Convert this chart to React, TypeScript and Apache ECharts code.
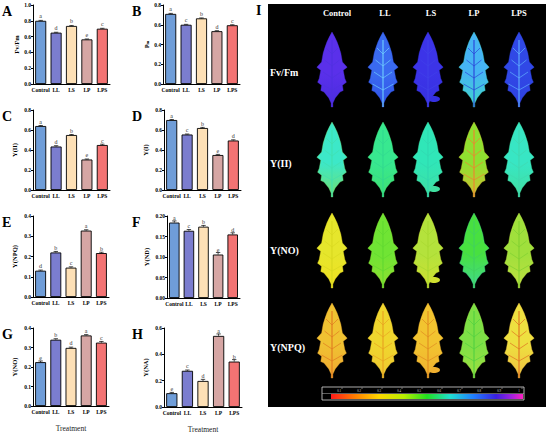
import React, { useEffect, useRef } from "react";
import * as echarts from "echarts";

// ---------- data ----------
const categories = ["Control", "LL", "LS", "LP", "LPS"];
const barColors = ["#6f9dd8", "#7b7dcf", "#fde0b6", "#d6a6a4", "#f37373"];

const fvfmValues = [0.8, 0.65, 0.735, 0.565, 0.7];
const fvfmErr = [0.005, 0.005, 0.005, 0.005, 0.005];
const fvfmSig = ["a", "d", "b", "e", "c"];

const pmValues = [0.71, 0.6, 0.665, 0.535, 0.595];
const pmErr = [0.005, 0.004, 0.004, 0.005, 0.005];
const pmSig = ["a", "c", "b", "d", "c"];

const yiiValues = [0.64, 0.435, 0.55, 0.305, 0.45];
const yiiErr = [0.005, 0.008, 0.005, 0.005, 0.008];
const yiiSig = ["a", "d", "b", "e", "c"];

const yiValues = [0.7, 0.555, 0.62, 0.35, 0.495];
const yiErr = [0.005, 0.005, 0.006, 0.006, 0.007];
const yiSig = ["a", "c", "b", "e", "d"];

const ynpqValues = [0.13, 0.22, 0.145, 0.328, 0.217];
const ynpqErr = [0.003, 0.005, 0.004, 0.004, 0.004];
const ynpqSig = ["d", "b", "c", "a", "b"];

const yndValues = [0.184, 0.164, 0.174, 0.106, 0.155];
const yndErr = [0.004, 0.003, 0.003, 0.005, 0.004];
const yndSig = ["a", "c", "b", "e", "d"];

const ynoValues = [0.225, 0.34, 0.298, 0.362, 0.325];
const ynoErr = [0.006, 0.005, 0.004, 0.004, 0.006];
const ynoSig = ["e", "b", "d", "a", "c"];

const ynaValues = [0.105, 0.275, 0.198, 0.54, 0.345];
const ynaErr = [0.006, 0.006, 0.012, 0.015, 0.015];
const ynaSig = ["e", "c", "d", "a", "b"];

// panel I (images) labels
const imageCols = ["Control", "LL", "LS", "LP", "LPS"];
const imageRows = ["Fv/Fm", "Y(II)", "Y(NO)", "Y(NPQ)"];
const leafFill = [
  ["#5a30ea", "#3a6af0", "#3c34e8", "#46b4f4", "#3048e6"],
  ["#3de8c8", "#38e890", "#30e6b8", "#90e030", "#38e6c4"],
  ["#e6e62c", "#70e434", "#b4e23c", "#48e040", "#a0e03c"],
  ["#f0c232", "#f0d62e", "#f2c430", "#7ee046", "#eee040"],
];
const leafFill2 = [
  ["#4a2ce0", "#2f50e8", "#3530e0", "#40d8c8", "#2e40e0"],
  ["#70e070", "#40e070", "#40e0a0", "#d0c030", "#40e0a0"],
  ["#f0e020", "#90e030", "#d0e030", "#40d890", "#c0e040"],
  ["#f0a830", "#f0c830", "#f0b030", "#a0e040", "#f0c040"],
];
const leafVein = [
  ["#5030e0", "#70d0ff", "#4040ea", "#2a40d8", "#60b0ff"],
  ["#40e0b0", "#30d890", "#30d8b0", "#f08030", "#40d8b0"],
  ["#d8d820", "#60d830", "#a8d830", "#40d060", "#80d030"],
  ["#e07820", "#e8a020", "#e08a20", "#50d040", "#e07020"],
];
const colorbarTicks = ["0.1", "0.2", "0.3", "0.4", "0.5", "0.6", "0.7", "0.8", "0.9", "1"];

const FONT = "Liberation Serif";
const LEAF_D =
  "M20 0 Q27 12 31 28 L33 40 L39 47 L34 51 L36 62 L38 67 L33 71 L34 78 L30 80 L24 88 L21 95 L21 100 L19 100 L19 95 L16 88 L10 80 L6 78 L7 71 L2 67 L4 62 L6 51 L1 47 L7 40 L9 28 Q13 12 20 0 Z";

let leafRegistered = false;
function registerLeaf() {
  if (leafRegistered) return;
  echarts.graphic.registerShape("leaf", echarts.graphic.extendPath(LEAF_D, {}) as any);
  leafRegistered = true;
}

type Panel = {
  letter: string;
  name: string;
  values: number[];
  err: number[];
  sig: string[];
  max: number;
  interval: number;
  dec: number;
  grid: { left: number; top: number; width: number; height: number };
  nameGap: number;
  xName?: string;
};

const panels: Panel[] = [
  { letter: "A", name: "Fv/Fm", values: fvfmValues, err: fvfmErr, sig: fvfmSig, max: 1.0, interval: 0.2, dec: 1, grid: { left: 33, top: 5, width: 77, height: 79 }, nameGap: 12 },
  { letter: "B", name: "{p|P}{s|m}", values: pmValues, err: pmErr, sig: pmSig, max: 0.8, interval: 0.2, dec: 1, grid: { left: 163, top: 5, width: 77, height: 79 }, nameGap: 13 },
  { letter: "C", name: "Y(II)", values: yiiValues, err: yiiErr, sig: yiiSig, max: 0.8, interval: 0.2, dec: 1, grid: { left: 33, top: 110, width: 77, height: 80 }, nameGap: 15 },
  { letter: "D", name: "Y(I)", values: yiValues, err: yiErr, sig: yiSig, max: 0.8, interval: 0.2, dec: 1, grid: { left: 164, top: 110, width: 77, height: 80 }, nameGap: 15 },
  { letter: "E", name: "Y(NPQ)", values: ynpqValues, err: ynpqErr, sig: ynpqSig, max: 0.4, interval: 0.1, dec: 1, grid: { left: 33, top: 216, width: 76, height: 81 }, nameGap: 15 },
  { letter: "F", name: "Y(ND)", values: yndValues, err: yndErr, sig: yndSig, max: 0.2, interval: 0.05, dec: 2, grid: { left: 167, top: 216, width: 73, height: 82 }, nameGap: 17 },
  { letter: "G", name: "Y(NO)", values: ynoValues, err: ynoErr, sig: ynoSig, max: 0.4, interval: 0.1, dec: 1, grid: { left: 33, top: 328, width: 76, height: 78 }, nameGap: 15, xName: "Treatment" },
  { letter: "H", name: "Y(NA)", values: ynaValues, err: ynaErr, sig: ynaSig, max: 0.6, interval: 0.2, dec: 1, grid: { left: 164, top: 328, width: 78, height: 79 }, nameGap: 15, xName: "Treatment" },
];

function buildOption() {
  const grids: any[] = [];
  const xAxes: any[] = [];
  const yAxes: any[] = [];
  const series: any[] = [];
  const graphic: any[] = [];

  panels.forEach((p, i) => {
    grids.push({ ...p.grid, containLabel: false });
    xAxes.push({
      type: "category",
      gridIndex: i,
      data: categories,
      axisLine: { lineStyle: { color: "#000", width: 1 } },
      axisTick: { show: false },
      axisLabel: { interval: 0, fontSize: 5.5, fontWeight: "bold", color: "#000", fontFamily: FONT, margin: 3 },
      name: p.xName || "",
      nameLocation: "middle",
      nameGap: 18,
      nameTextStyle: { fontSize: 7.5, color: "#222", fontFamily: FONT },
    });
    yAxes.push({
      type: "value",
      gridIndex: i,
      min: 0,
      max: p.max,
      interval: p.interval,
      axisLine: { show: true, lineStyle: { color: "#000", width: 1 } },
      axisTick: { show: true, length: 2, lineStyle: { color: "#000" } },
      splitLine: { show: false },
      axisLabel: {
        fontSize: 5.5,
        fontWeight: "bold",
        color: "#000",
        fontFamily: FONT,
        margin: 2,
        formatter: (v: number) => v.toFixed(p.dec),
      },
      name: p.name,
      nameLocation: "middle",
      nameGap: p.nameGap,
      nameRotate: 90,
      nameTextStyle: {
        fontSize: 6.5,
        fontWeight: "bold",
        color: "#000",
        fontFamily: FONT,
        rich: {
          p: { fontSize: 6.5, fontWeight: "bold", fontFamily: FONT, color: "#000" },
          s: { fontSize: 4.5, fontWeight: "bold", fontFamily: FONT, color: "#000", verticalAlign: "bottom", padding: [3, 0, 0, 0] },
        },
      },
    });
    series.push({
      type: "bar",
      xAxisIndex: i,
      yAxisIndex: i,
      barWidth: "72%",
      data: p.values.map((v, j) => ({
        value: v,
        itemStyle: { color: barColors[j], borderColor: "#000", borderWidth: 0.9 },
      })),
      label: {
        show: true,
        position: "top",
        distance: 1.5,
        fontSize: 6,
        color: "#333",
        fontFamily: FONT,
        formatter: (prm: any) => p.sig[prm.dataIndex],
      },
      z: 2,
    });
    series.push({
      type: "custom",
      xAxisIndex: i,
      yAxisIndex: i,
      data: p.values.map((v, j) => [j, v, p.err[j]]),
      renderItem: (_params: any, api: any) => {
        const x = api.value(0);
        const y = api.value(1);
        const e = api.value(2);
        const top = api.coord([x, y + e]);
        const base = api.coord([x, y]);
        const hw = 2.2;
        return {
          type: "group",
          children: [
            { type: "line", shape: { x1: top[0], y1: top[1], x2: base[0], y2: base[1] }, style: { stroke: "#000", lineWidth: 0.7 } },
            { type: "line", shape: { x1: top[0] - hw, y1: top[1], x2: top[0] + hw, y2: top[1] }, style: { stroke: "#000", lineWidth: 0.7 } },
          ],
        };
      },
      z: 3,
    });
    const lx = p.grid.left < 100 ? 2 : 132;
    graphic.push({
      type: "text",
      left: lx,
      top: p.grid.top - 1,
      style: { text: p.letter, font: `bold 14px '${FONT}'`, fill: "#000" },
    });
  });

  // ---------- panel I ----------
  graphic.push({
    type: "text",
    left: 256,
    top: 3,
    style: { text: "I", font: `bold 14px '${FONT}'`, fill: "#000" },
  });
  graphic.push({ type: "rect", shape: { x: 268, y: 4, width: 278, height: 403 }, style: { fill: "#000" } });

  const colX = [332, 383, 428, 474, 519];
  const headX = [337, 385, 431, 474, 519];
  const rowTop = [32, 122, 213, 303];
  const rowLabelY = [72, 163, 250, 347];

  imageCols.forEach((c, j) => {
    graphic.push({
      type: "text",
      x: headX[j],
      y: 13,
      style: { text: c, font: `bold 8.5px '${FONT}'`, fill: "#fff", align: "center", verticalAlign: "middle" },
    });
  });
  imageRows.forEach((r, k) => {
    graphic.push({
      type: "text",
      x: 270,
      y: rowLabelY[k],
      style: { text: r, font: `bold 10px '${FONT}'`, fill: "#fff", align: "left", verticalAlign: "middle" },
    });
    colX.forEach((cx, j) => {
      const top = rowTop[k];
      if (j === 2) {
        graphic.push({
          type: "ellipse",
          shape: { cx: cx + 6, cy: top + 67, rx: 6, ry: 3 },
          style: { fill: leafFill2[k][j] },
        });
      }
      graphic.push({
        type: "leaf",
        x: cx - 16,
        y: top,
        scaleX: 0.8,
        scaleY: 0.75,
        style: {
          fill: new echarts.graphic.LinearGradient(0, 0, 0, 1, [
            { offset: 0, color: leafFill[k][j] },
            { offset: 0.55, color: leafFill[k][j] },
            { offset: 1, color: leafFill2[k][j] },
          ]),
          stroke: leafFill2[k][j],
          lineWidth: 0.5,
        },
      });
      const vc = leafVein[k][j];
      const vw = 1.1;
      graphic.push({
        type: "line",
        shape: { x1: cx, y1: top + 8, x2: cx, y2: top + 75 },
        style: { stroke: vc, lineWidth: vw },
      });
      [22, 34, 46, 58].forEach((dy, q) => {
        const spread = 6 + q * 1.5;
        graphic.push({
          type: "polyline",
          shape: { points: [[cx - spread, top + dy - 6], [cx, top + dy], [cx + spread, top + dy - 6]] },
          style: { stroke: vc, lineWidth: 0.7, fill: "none" },
        });
      });
    });
  });

  // colour bar
  const cbX0 = 322;
  const cbW = 202;
  graphic.push({ type: "rect", shape: { x: cbX0, y: 387, width: cbW, height: 13 }, style: { fill: "#000", stroke: "#d8d8d8", lineWidth: 0.8 } });
  graphic.push({
    type: "rect",
    shape: { x: cbX0 + 9, y: 394, width: cbW - 10, height: 5 },
    style: {
      fill: new echarts.graphic.LinearGradient(0, 0, 1, 0, [
        { offset: 0, color: "#ff1a1a" },
        { offset: 0.12, color: "#ff7a00" },
        { offset: 0.25, color: "#ffd700" },
        { offset: 0.38, color: "#b8f000" },
        { offset: 0.5, color: "#20e020" },
        { offset: 0.62, color: "#20e0d0" },
        { offset: 0.74, color: "#2080ff" },
        { offset: 0.86, color: "#3a20e0" },
        { offset: 0.94, color: "#a020e0" },
        { offset: 1, color: "#ff20c0" },
      ]),
    },
  });
  graphic.push({ type: "line", shape: { x1: cbX0, y1: 393.5, x2: cbX0 + cbW, y2: 393.5 }, style: { stroke: "#bbb", lineWidth: 0.5 } });
  colorbarTicks.forEach((t, i) => {
    const x = cbX0 + ((i + 1) / 10) * (cbW - 2);
    graphic.push({ type: "line", shape: { x1: x, y1: 387.5, x2: x, y2: 389 }, style: { stroke: "#ddd", lineWidth: 0.5 } });
    graphic.push({
      type: "text",
      x: x - 3,
      y: 390.5,
      style: { text: t, font: `3px '${FONT}'`, fill: "#ddd", align: "center", verticalAlign: "middle" },
    });
  });

  return {
    animation: false,
    backgroundColor: "#fff",
    grid: grids,
    xAxis: xAxes,
    yAxis: yAxes,
    series,
    graphic,
  };
}

export default function App() {
  const ref = useRef<HTMLDivElement>(null);
  useEffect(() => {
    document.body.style.margin = "0";
    registerLeaf();
    const chart = echarts.init(ref.current!, undefined, { renderer: "svg" });
    chart.setOption(buildOption() as any);
    return () => chart.dispose();
  }, []);
  return <div ref={ref} style={{ width: 550, height: 434 }} />;
}
